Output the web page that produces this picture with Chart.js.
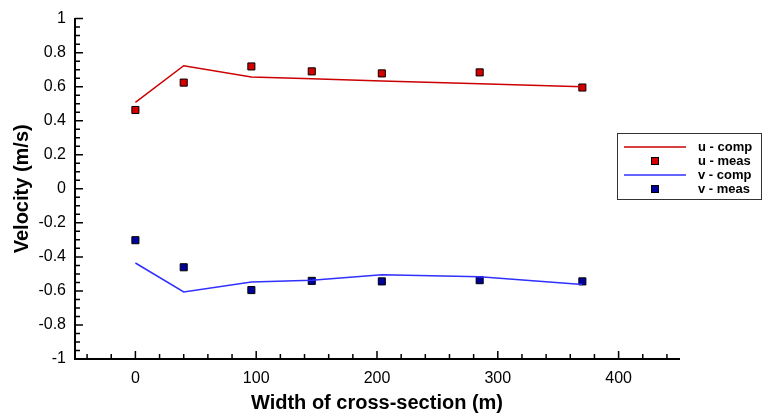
<!DOCTYPE html>
<html>
<head>
<meta charset="utf-8">
<script src="https://cdn.jsdelivr.net/npm/chart.js@4/dist/chart.umd.min.js"></script>
<style>
  html, body { margin: 0; padding: 0; background: #fff; }
  #wrap { width: 763px; height: 415px; position: relative; }
</style>
</head>
<body>
<div id="wrap"><canvas id="velocity"></canvas></div>
<script>
// cross-section stations (m)
const widthComp = [0, 40, 96, 146, 204, 285, 370];
const widthMeas = [0, 40, 96, 146, 204, 285, 370];

// computed velocities (m/s)
const uComp = [0.508, 0.723, 0.657, 0.646, 0.634, 0.617, 0.599];
const vComp = [-0.436, -0.606, -0.548, -0.538, -0.505, -0.517, -0.562];

// measured velocities (m/s)
const uMeas = [0.463, 0.624, 0.719, 0.690, 0.678, 0.684, 0.595];
const vMeas = [-0.302, -0.461, -0.595, -0.541, -0.544, -0.537, -0.544];

const xTicks = [0, 100, 200, 300, 400];
const yTicks = [-1, -0.8, -0.6, -0.4, -0.2, 0, 0.2, 0.4, 0.6, 0.8, 1];

const pts = (xs, ys) => xs.map((x, i) => ({ x: x, y: ys[i] }));
const FONT = "'Liberation Sans', Arial, Helvetica, sans-serif";

// tick marks drawn inward from the axes, long for labelled ticks, short for minor ones
const innerTicks = {
  id: 'innerTicks',
  afterDraw(chart) {
    const { ctx, chartArea: a, scales: { x, y } } = chart;
    ctx.save();
    ctx.strokeStyle = '#000';
    ctx.lineWidth = 1.5;
    ctx.beginPath();
    for (let v = -40; v <= 450; v += 20) {
      const px = x.getPixelForValue(v);
      const len = v % 100 === 0 ? 8 : 5;
      ctx.moveTo(px, a.bottom);
      ctx.lineTo(px, a.bottom - len);
    }
    for (let k = -20; k <= 20; k++) {
      const py = y.getPixelForValue(k * 0.05);
      const len = k % 4 === 0 ? 8 : 5;
      ctx.moveTo(a.left, py);
      ctx.lineTo(a.left + len, py);
    }
    ctx.stroke();
    ctx.restore();
  }
};

// boxed legend to the right of the plot
const boxLegend = {
  id: 'boxLegend',
  afterDraw(chart) {
    const ctx = chart.ctx;
    const left = 617.5, top = 133.5, w = 144, h = 66;
    ctx.save();
    ctx.fillStyle = '#fff';
    ctx.fillRect(left, top, w, h);
    ctx.strokeStyle = '#333';
    ctx.lineWidth = 1;
    ctx.strokeRect(left, top, w, h);
    const rows = [147, 161, 175, 189];
    ctx.font = "bold 13px " + FONT;
    ctx.textBaseline = 'middle';
    chart.data.datasets.forEach((ds, i) => {
      const yy = rows[i];
      if (ds.showLine) {
        ctx.strokeStyle = ds.borderColor;
        ctx.lineWidth = ds.borderWidth;
        ctx.beginPath();
        ctx.moveTo(624, yy);
        ctx.lineTo(686, yy);
        ctx.stroke();
      } else {
        ctx.fillStyle = ds.pointBackgroundColor;
        ctx.strokeStyle = '#000';
        ctx.lineWidth = 1;
        ctx.fillRect(651.5, yy - 3.5, 7, 7);
        ctx.strokeRect(651.5, yy - 3.5, 7, 7);
      }
      ctx.fillStyle = '#000';
      ctx.fillText(ds.label, 698, yy);
    });
    ctx.restore();
  }
};

const tickFont = { family: FONT, size: 16 };
const titleFont = { family: FONT, size: 20, weight: 'bold' };

new Chart(document.getElementById('velocity'), {
  type: 'scatter',
  data: {
    datasets: [
      {
        label: 'u - comp',
        data: pts(widthComp, uComp),
        showLine: true,
        borderColor: '#cc0000',
        borderWidth: 1.5,
        pointRadius: 0
      },
      {
        label: 'u - meas',
        data: pts(widthMeas, uMeas),
        showLine: false,
        pointStyle: 'rect',
        pointRadius: 5,
        pointBackgroundColor: '#d40000',
        pointBorderColor: '#000',
        pointBorderWidth: 1
      },
      {
        label: 'v - comp',
        data: pts(widthComp, vComp),
        showLine: true,
        borderColor: '#3030ff',
        borderWidth: 1.5,
        pointRadius: 0
      },
      {
        label: 'v - meas',
        data: pts(widthMeas, vMeas),
        showLine: false,
        pointStyle: 'rect',
        pointRadius: 5,
        pointBackgroundColor: '#00009a',
        pointBorderColor: '#000',
        pointBorderWidth: 1
      }
    ]
  },
  options: {
    responsive: true,
    maintainAspectRatio: false,
    animation: false,
    layout: { padding: { left: 0, right: 84, top: 15, bottom: 0 } },
    plugins: {
      legend: { display: false },
      tooltip: { enabled: false }
    },
    scales: {
      x: {
        type: 'linear',
        min: -50,
        max: 450,
        afterBuildTicks: s => { s.ticks = xTicks.map(v => ({ value: v })); },
        afterFit: s => { s.height = 56; },
        grid: { display: false, drawTicks: false },
        border: { display: true, color: '#000', width: 2 },
        ticks: { color: '#000', font: tickFont, padding: 10, maxRotation: 0 },
        title: { display: true, text: 'Width of cross-section (m)', color: '#000', font: titleFont, padding: { top: 0, bottom: 0 } }
      },
      y: {
        type: 'linear',
        min: -1,
        max: 1,
        afterBuildTicks: s => { s.ticks = yTicks.map(v => ({ value: v })); },
        afterFit: s => { s.width = 75; },
        grid: { display: false, drawTicks: false },
        border: { display: true, color: '#000', width: 2 },
        ticks: { color: '#000', font: tickFont, padding: 9, callback: v => String(Math.round(v * 10) / 10) },
        title: { display: true, text: 'Velocity (m/s)', color: '#000', font: titleFont, padding: { top: 10, bottom: 0 } }
      }
    }
  },
  plugins: [innerTicks, boxLegend]
});
</script>
</body>
</html>
